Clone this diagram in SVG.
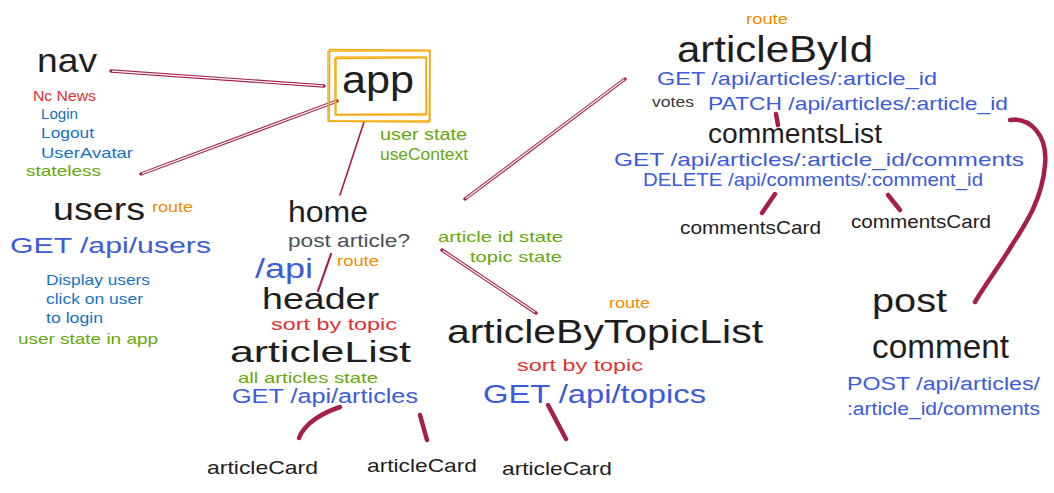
<svg xmlns="http://www.w3.org/2000/svg" width="1054" height="493" viewBox="0 0 1054 493">
<style>
text{font-family:"Liberation Sans","Noto Sans",sans-serif;}
.k{fill:#1e1e1e}
.r{fill:#e03131}
.o{fill:#f08c00}
.g{fill:#66a80f}
.b{fill:#3b5bdb}
.lb{fill:#1971c2}
.gr{fill:#495057}
.dk{fill:#343a40}
.dl{stroke:#a61e4d;stroke-width:3.4;fill:none;stroke-linecap:round}
.dw{stroke:#ffffff;stroke-width:1.2;fill:none;stroke-linecap:butt}
.sl{stroke:#a61e4d;stroke-width:1.6;fill:none;stroke-linecap:round}
.br{stroke:#a61e4d;stroke-width:4.5;fill:none;stroke-linecap:round;stroke-linejoin:round}
.bx{stroke:#f5a700;stroke-width:1.3;fill:none}
</style>
<rect width="1054" height="493" fill="#ffffff"/>
<g id="connectors">
  <path class="dl" d="M111,71 L324,86"/><path class="dw" d="M112,71.1 L323,85.9"/>
  <path class="dl" d="M141,174 L337,101"/><path class="dw" d="M142,173.6 L336,101.4"/>
  <path class="sl" d="M364,122 L340,195"/>
  <path class="sl" d="M331,254 L318,291" style="stroke-width:2.2"/>
  <path class="dl" d="M442,250 L536,313"/><path class="dw" d="M443,250.7 L535,312.3"/>
  <path class="dl" d="M625,79 L465,199"/><path class="dw" d="M624.2,79.6 L465.8,198.4"/>
  <path class="br" d="M776,114 L778,125"/>
  <path class="br" d="M1010,120 C1030,117 1048,135 1045,165 C1042,200 1025,225 1012,245 C1000,265 985,285 975,302"/>
  <path class="br" d="M775,194 L762,213"/>
  <path class="br" d="M888,195 L900,210"/>
  <path class="br" d="M340,407 C325,412 305,422 299,438"/>
  <path class="br" d="M420,415 L427,440"/>
  <path class="br" d="M548,405 L566,439"/>
</g>
<g id="nav">
  <text class="k" x="37" y="72" font-size="33" textLength="60" lengthAdjust="spacingAndGlyphs">nav</text>
  <text class="r" x="33" y="101" font-size="15" textLength="63" lengthAdjust="spacingAndGlyphs">Nc News</text>
  <text class="lb" x="41" y="119" font-size="15" textLength="37" lengthAdjust="spacingAndGlyphs">Login</text>
  <text class="lb" x="41" y="138" font-size="15" textLength="53" lengthAdjust="spacingAndGlyphs">Logout</text>
  <text class="lb" x="41" y="158" font-size="15" textLength="92" lengthAdjust="spacingAndGlyphs">UserAvatar</text>
  <text class="g" x="26" y="176" font-size="15" textLength="75" lengthAdjust="spacingAndGlyphs">stateless</text>
</g>
<g id="app">
  <rect class="bx" x="328" y="51" width="102" height="70"/>
  <rect class="bx" x="329.5" y="49.8" width="100" height="72" transform="rotate(0.4 379 86)"/>
  <rect class="bx" x="336" y="57" width="90" height="58"/>
  <rect class="bx" x="335" y="58.2" width="91.5" height="56" transform="rotate(-0.4 381 86)"/>
  <text class="k" x="342" y="93" font-size="38" textLength="72" lengthAdjust="spacingAndGlyphs">app</text>
  <text class="g" x="380" y="140" font-size="16" textLength="87" lengthAdjust="spacingAndGlyphs">user state</text>
  <text class="g" x="380" y="160" font-size="16" textLength="88" lengthAdjust="spacingAndGlyphs">useContext</text>
</g>
<g id="users">
  <text class="k" x="53" y="220" font-size="32" textLength="92" lengthAdjust="spacingAndGlyphs">users</text>
  <text class="o" x="152" y="212" font-size="15" textLength="41" lengthAdjust="spacingAndGlyphs">route</text>
  <text class="b" x="10" y="253" font-size="22" textLength="201" lengthAdjust="spacingAndGlyphs">GET /api/users</text>
  <text class="lb" x="46" y="285" font-size="15" textLength="104" lengthAdjust="spacingAndGlyphs">Display users</text>
  <text class="lb" x="46" y="304" font-size="15" textLength="97" lengthAdjust="spacingAndGlyphs">click on user</text>
  <text class="lb" x="46" y="323" font-size="15" textLength="57" lengthAdjust="spacingAndGlyphs">to login</text>
  <text class="g" x="18" y="344" font-size="15" textLength="140" lengthAdjust="spacingAndGlyphs">user state in app</text>
</g>
<g id="home">
  <text class="k" x="288" y="222" font-size="30" textLength="80" lengthAdjust="spacingAndGlyphs">home</text>
  <text class="gr" x="288" y="247" font-size="18" textLength="122" lengthAdjust="spacingAndGlyphs">post article?</text>
</g>
<g id="header">
  <text class="b" x="255" y="278" font-size="27" textLength="58" lengthAdjust="spacingAndGlyphs">/api</text>
  <text class="o" x="337" y="266" font-size="15" textLength="42" lengthAdjust="spacingAndGlyphs">route</text>
  <text class="k" x="262" y="309" font-size="30" textLength="117" lengthAdjust="spacingAndGlyphs">header</text>
  <text class="r" x="271" y="330" font-size="17" textLength="126" lengthAdjust="spacingAndGlyphs">sort by topic</text>
</g>
<g id="articleList">
  <text class="k" x="230" y="362" font-size="30" textLength="181" lengthAdjust="spacingAndGlyphs">articleList</text>
  <text class="g" x="238" y="383" font-size="15" textLength="140" lengthAdjust="spacingAndGlyphs">all articles state</text>
  <text class="b" x="232" y="403" font-size="20" textLength="186" lengthAdjust="spacingAndGlyphs">GET /api/articles</text>
</g>
<g id="articleCard1"><text class="k" x="207" y="474" font-size="19" textLength="111" lengthAdjust="spacingAndGlyphs">articleCard</text></g>
<g id="articleCard2"><text class="k" x="367" y="472" font-size="19" textLength="110" lengthAdjust="spacingAndGlyphs">articleCard</text></g>
<g id="articleCard3"><text class="k" x="502" y="475" font-size="19" textLength="110" lengthAdjust="spacingAndGlyphs">articleCard</text></g>
<g id="articleByTopicList">
  <text class="g" x="438" y="242" font-size="15" textLength="125" lengthAdjust="spacingAndGlyphs">article id state</text>
  <text class="g" x="470" y="262" font-size="15" textLength="92" lengthAdjust="spacingAndGlyphs">topic state</text>
  <text class="o" x="609" y="308" font-size="15" textLength="41" lengthAdjust="spacingAndGlyphs">route</text>
  <text class="k" x="447" y="343" font-size="34" textLength="316" lengthAdjust="spacingAndGlyphs">articleByTopicList</text>
  <text class="r" x="517" y="371" font-size="17" textLength="126" lengthAdjust="spacingAndGlyphs">sort by topic</text>
  <text class="b" x="483" y="403" font-size="25" textLength="223" lengthAdjust="spacingAndGlyphs">GET /api/topics</text>
</g>
<g id="articleById">
  <text class="o" x="746" y="24" font-size="15" textLength="42" lengthAdjust="spacingAndGlyphs">route</text>
  <text class="k" x="677" y="62" font-size="36" textLength="196" lengthAdjust="spacingAndGlyphs">articleById</text>
  <text class="b" x="657" y="85" font-size="19" textLength="280" lengthAdjust="spacingAndGlyphs">GET /api/articles/:article_id</text>
  <text class="dk" x="652" y="107" font-size="14" textLength="42" lengthAdjust="spacingAndGlyphs">votes</text>
  <text class="b" x="708" y="110" font-size="19" textLength="300" lengthAdjust="spacingAndGlyphs">PATCH /api/articles/:article_id</text>
</g>
<g id="commentsList">
  <text class="k" x="708" y="143" font-size="27" textLength="174" lengthAdjust="spacingAndGlyphs">commentsList</text>
  <text class="b" x="614" y="166" font-size="19" textLength="410" lengthAdjust="spacingAndGlyphs">GET /api/articles/:article_id/comments</text>
  <text class="b" x="643" y="186" font-size="19" textLength="340" lengthAdjust="spacingAndGlyphs">DELETE /api/comments/:comment_id</text>
</g>
<g id="commentsCard1"><text class="k" x="680" y="234" font-size="19" textLength="141" lengthAdjust="spacingAndGlyphs">commentsCard</text></g>
<g id="commentsCard2"><text class="k" x="851" y="228" font-size="19" textLength="140" lengthAdjust="spacingAndGlyphs">commentsCard</text></g>
<g id="postComment">
  <text class="k" x="872" y="312" font-size="34" textLength="75" lengthAdjust="spacingAndGlyphs">post</text>
  <text class="k" x="872" y="358" font-size="34" textLength="137" lengthAdjust="spacingAndGlyphs">comment</text>
  <text class="b" x="847" y="390" font-size="18" textLength="193" lengthAdjust="spacingAndGlyphs">POST /api/articles/</text>
  <text class="b" x="847" y="415" font-size="18" textLength="193" lengthAdjust="spacingAndGlyphs">:article_id/comments</text>
</g>
</svg>
